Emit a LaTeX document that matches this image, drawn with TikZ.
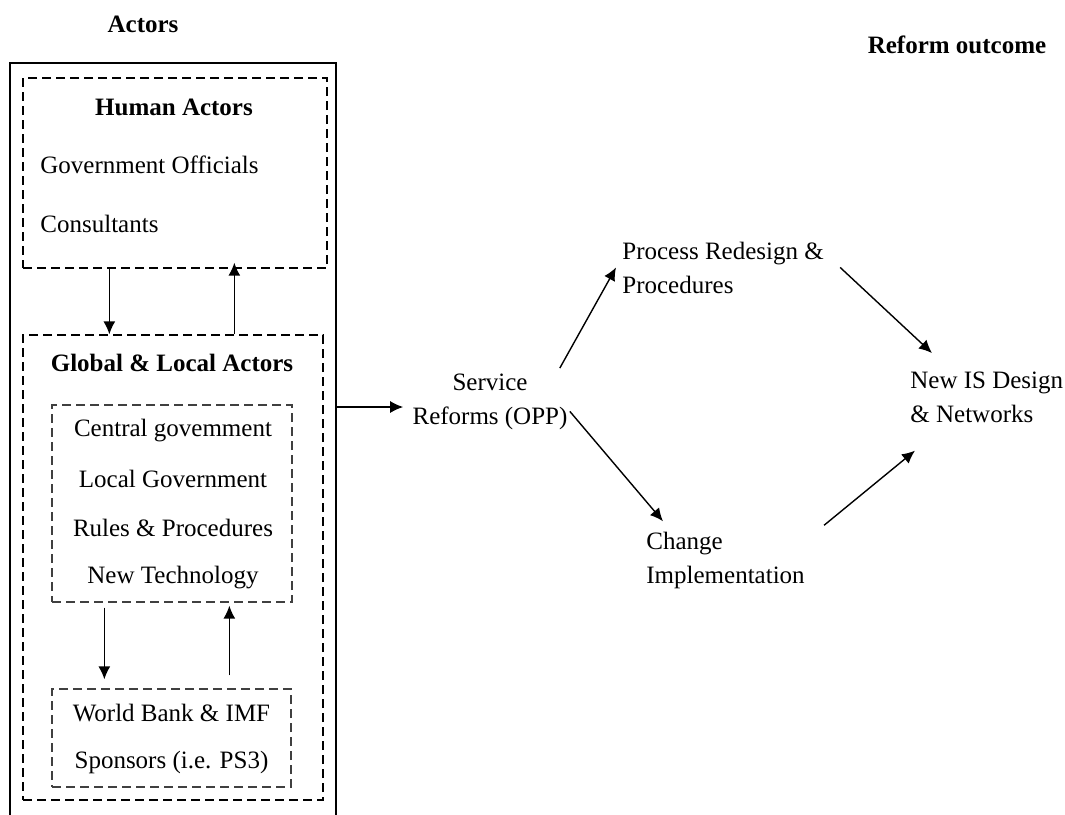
\documentclass[tikz,border=0pt]{standalone}
\usepackage{fontspec}
\setmainfont{Liberation Serif}
\usetikzlibrary{arrows.meta,positioning}
\tikzset{
    %Define standard arrow tip
    >={Latex[length=6.5pt,width=6pt]},
    %Define style for dashed boxes
    dashbox/.style={
           rectangle,
           draw=black, line width=0.65pt,
           dash pattern=on 4.5pt off 2.5pt,
           inner sep=0pt},
    innerbox/.style={
           dashbox,
           draw=black!75},
    %Define style for texts
    txt/.style={
           font=\fontsize{12.5}{17}\selectfont,
           inner sep=0pt},
    hdr/.style={
           txt,
           font=\fontsize{12.5}{17}\selectfont\bfseries},
    % Define arrow style
    pil/.style={
           ->,
           line width=0.7pt}
}
\begin{document}
\begin{tikzpicture}[x=0.5pt,y=-0.5pt]
\useasboundingbox (0,0) rectangle (1065,814);
% headings
\node[hdr, anchor=base] (actors) at (143,32) {Actors};
\node[hdr, anchor=base] (outcome) at (957,53) {Reform outcome};
% outer frame, open at the bottom
\draw[line width=0.7pt] (10,830) -- (10,63) -- (336,63) -- (336,830);
\coordinate (frame) at (336,407);
% boxes
\node[dashbox, minimum width=152pt, minimum height=95pt] (human) at (175,173) {};
\node[dashbox, minimum width=150pt, minimum height=232.5pt] (global) at (173,567.5) {};
\node[innerbox, minimum width=120pt, minimum height=98.5pt] (inner) at (172,503.5) {};
\node[innerbox, minimum width=119.5pt, minimum height=49pt] (bank) at (171.5,738) {};
% texts in boxes
\node[hdr, anchor=base] (h1) at (174,115) {Human Actors};
\node[txt, anchor=base west] (h2) at (40,173) {Government Officials};
\node[txt, anchor=base west] (h3) at (40,232) {Consultants};
\node[hdr, anchor=base] (g1) at (172,371) {Global \& Local Actors};
\node[txt, anchor=base] (i1) at (173,436) {Central govemment};
\node[txt, anchor=base] (i2) at (173,487) {Local Government};
\node[txt, anchor=base] (i3) at (173,536) {Rules \& Procedures};
\node[txt, anchor=base] (i4) at (173,583) {New Technology};
\node[txt, anchor=base] (b1) at (171.5,721) {World Bank \& IMF};
\node[txt, anchor=base] (b2) at (171.5,768) {Sponsors (i.e. PS3)};
% reform chain (base = last line)
\node[txt, anchor=base, align=center] (service) at (490,424) {Service\\Reforms (OPP)};
\node[txt, anchor=base west, align=left] (process) at (622,293) {Process Redesign \&\\Procedures};
\node[txt, anchor=base west, align=left] (change) at (646,583) {Change\\Implementation};
\node[txt, anchor=base west, align=left] (newis) at (910,422) {New IS Design\\\& Networks};
% arrows
\draw[pil] ([xshift=43.5pt]human.south west) -- ([xshift=43.5pt]global.north west);
\draw[pil, shorten >=-3pt] ([xshift=106pt]global.north west) -- ([xshift=106pt]human.south west);
\draw[pil, shorten <=2.5pt, shorten >=4.5pt] ([xshift=26.5pt]inner.south west) -- ([xshift=26.5pt]bank.north west);
\draw[pil, shorten <=6.5pt, shorten >=1.5pt] ([xshift=89pt]bank.north west) -- ([xshift=89pt]inner.south west);
\draw[pil] (frame) -- ([xshift=-4.5pt]service.west |- frame);
\draw[pil] ([xshift=-4pt,yshift=2.5pt]service.north east) -- ([xshift=-3pt]process.west);
\draw[pil] ([xshift=1pt,yshift=-5pt]service.east) -- ([xshift=8.5pt,yshift=5pt]change.north west);
\draw[pil] ([xshift=8pt]process.east) -- ([xshift=11pt,yshift=9pt]newis.north west);
\draw[pil] ([xshift=9.5pt,yshift=3pt]change.north east) -- ([xshift=2.5pt,yshift=-14pt]newis.south west);
\end{tikzpicture}
\end{document}
